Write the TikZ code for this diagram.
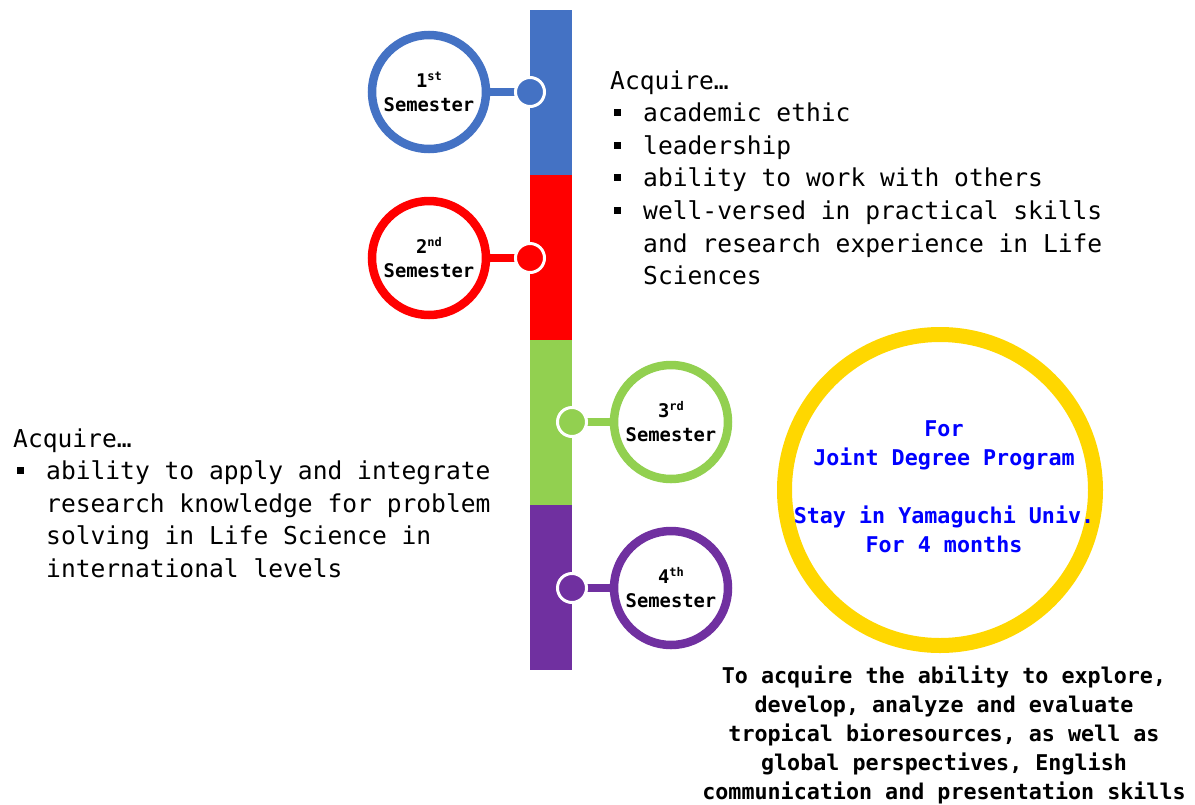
\documentclass[tikz,border=0pt]{standalone}
\usepackage{fontspec}
\newfontfamily\mono{DejaVu Sans Mono}
\definecolor{cblue}{HTML}{4472C4}
\definecolor{cred}{HTML}{FF0000}
\definecolor{cgreen}{HTML}{92D050}
\definecolor{cpurple}{HTML}{7030A0}
\definecolor{cyellow}{HTML}{FFD700}
\definecolor{ctext}{HTML}{0000FF}
\newcommand{\bul}{\makebox[33pt][l]{\hspace{4pt}\raisebox{5.5pt}{\rule{7pt}{7pt}}}}
\newcommand{\ind}{\hspace*{33pt}}
\newcommand{\ord}[2]{#1\raisebox{7pt}{\fontsize{12}{12}\selectfont #2}}
\tikzset{
  semcirc/.style={circle, draw=#1, line width=8.5pt, fill=white, minimum size=114pt, inner sep=0pt,
    align=center, font=\mono\bfseries\fontsize{18.8}{24}\selectfont},
  tldot/.style={circle, fill=#1, draw=white, line width=3pt, minimum size=29pt, inner sep=0pt},
  conn/.style={draw=#1, line width=7.5pt},
  body/.style={align=left, inner sep=0pt, anchor=base west, font=\mono\fontsize{24.6}{32.6}\selectfont},
}
\begin{document}
\begin{tikzpicture}[x=1pt,y=-1pt]
\useasboundingbox (0,0) rectangle (1195,804);
% timeline bar
\fill[cblue] (530,10) rectangle (572,175);
\fill[cred] (530,175) rectangle (572,340);
\fill[cgreen] (530,340) rectangle (572,505);
\fill[cpurple] (530,505) rectangle (572,670);
% semesters
\node[semcirc=cblue] (s1) at (429,92) {\ord{1}{st}\\Semester};
\coordinate (c1) at (530,92);
\draw[conn=cblue] (s1.east) -- (c1);
\node[tldot=cblue] (d1) at (c1) {};

\node[semcirc=cred] (s2) at (429,258) {\ord{2}{nd}\\Semester};
\coordinate (c2) at (530,258);
\draw[conn=cred] (s2.east) -- (c2);
\node[tldot=cred] (d2) at (c2) {};

\node[semcirc=cgreen] (s3) at (671,422) {\ord{3}{rd}\\Semester};
\coordinate (c3) at (572,422);
\draw[conn=cgreen] (s3.west) -- (c3);
\node[tldot=cgreen] (d3) at (c3) {};

\node[semcirc=cpurple] (s4) at (671,588) {\ord{4}{th}\\Semester};
\coordinate (c4) at (572,588);
\draw[conn=cpurple] (s4.west) -- (c4);
\node[tldot=cpurple] (d4) at (c4) {};
% texts (base anchor = baseline of the last line)
\node[body] (t1) at (610,284.6) {Acquire…\\
\bul academic ethic\\
\bul leadership\\
\bul ability to work with others\\
\bul well-versed in practical skills\\
\ind and research experience in Life\\
\ind Sciences};
\node[body] (t2) at (13,577.4) {Acquire…\\
\bul ability to apply and integrate\\
\ind research knowledge for problem\\
\ind solving in Life Science in\\
\ind international levels};
% yellow circle
\node[circle, draw=cyellow, line width=15pt, minimum size=311pt, inner sep=0pt] (jd) at (940,490) {};
\node[align=center, inner sep=0pt, anchor=base, text=ctext, font=\mono\bfseries\fontsize{21.7}{29}\selectfont] (jdt) at (944,552)
{For\\Joint Degree Program\\[29pt]Stay in Yamaguchi Univ.\\For 4 months};
\node[align=center, inner sep=0pt, anchor=base, font=\mono\bfseries\fontsize{21.7}{29}\selectfont] (goal) at (944,799)
{To acquire the ability to explore,\\develop, analyze and evaluate\\tropical bioresources, as well as\\global perspectives, English\\communication and presentation skills};
\end{tikzpicture}
\end{document}
